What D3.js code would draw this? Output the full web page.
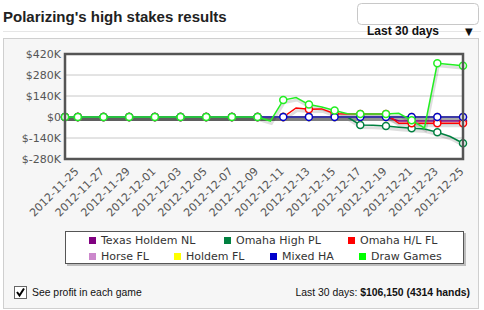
<!DOCTYPE html>
<html><head><meta charset="utf-8">
<script src="https://cdn.jsdelivr.net/npm/d3@7"></script>
<style>
body{margin:0;background:#fff;}
svg{display:block;}
</style></head>
<body><svg id="c" width="484" height="310"></svg>
<script>
// ---------- data ----------
const dates = ["2012-11-24","2012-11-25","2012-11-26","2012-11-27","2012-11-28","2012-11-29","2012-11-30",
"2012-12-01","2012-12-02","2012-12-03","2012-12-04","2012-12-05","2012-12-06","2012-12-07","2012-12-08",
"2012-12-09","2012-12-10","2012-12-11","2012-12-12","2012-12-13","2012-12-14","2012-12-15","2012-12-16",
"2012-12-17","2012-12-18","2012-12-19","2012-12-20","2012-12-21","2012-12-22","2012-12-23","2012-12-24","2012-12-25"];
const seriesNames = ["Texas Holdem NL","Omaha High PL","Omaha H/L FL","Horse FL","Holdem FL","Mixed HA","Draw Games"];
const seriesColors = ["#800080","#008040","#ff0000","#cc88cc","#ffff00","#0000cc","#22ee22"];
const legendColors = ["#800080","#008040","#ff0000","#cc88cc","#ffff00","#0000cc","#00ff00"];
// values in $K
const texasHoldemNL = [0,0,0,0,0,0,0,0,0,0,0,0,0,0,0,0,0,0,0,0,0,0,0,0,0,0,-27,-27,-27,-27,-27,-27];
const omahaHighPL   = [0,0,0,0,0,0,0,0,0,0,0,0,0,0,0,0,0,0,0,0,0,0,0,-53,-55,-60,-68,-75,-80,-102,-130,-175];
const omahaHLFL     = [0,0,0,0,0,0,0,0,0,0,0,0,0,0,0,0,0,0,60,52,54,22,20,20,20,20,-42,-42,-42,-42,-42,-42];
const horseFL       = [0,0,0,0,0,0,0,0,0,0,0,0,0,0,0,0,0,0,0,0,0,0,0,0,0,0,0,0,0,0,0,0];
const holdemFL      = [0,0,0,0,0,0,0,0,0,0,0,0,0,0,0,0,0,0,0,0,0,0,0,0,0,0,0,0,0,0,0,0];
const mixedHA       = [0,0,0,0,0,0,0,0,0,0,0,0,0,0,0,0,0,0,0,0,0,0,0,0,0,0,0,0,0,0,0,0];
const drawGames     = [0,0,0,0,0,0,0,0,0,0,0,0,0,0,0,0,-27,113,130,83,67,43,22,20,20,20,25,-22,-73,358,350,342];
const seriesValues = [texasHoldemNL,omahaHighPL,omahaHLFL,horseFL,holdemFL,mixedHA,drawGames];
const yTicks = [-280,-140,0,140,280,420];
const legendRows = [["Texas Holdem NL","Omaha High PL","Omaha H/L FL"],["Horse FL","Holdem FL","Mixed HA","Draw Games"]];

// ---------- drawing ----------
const svg = d3.select("#c");
const parse = d3.timeParse("%Y-%m-%d");
const fmt = d3.timeFormat("%Y-%m-%d");
const D = dates.map(parse);

// title
svg.append("text").attr("x",3).attr("y",22).attr("font-family","Liberation Sans, Arial, sans-serif")
  .attr("font-weight","bold").attr("font-size",15).attr("fill","#222").text("Polarizing's high stakes results");
svg.append("line").attr("x1",3).attr("x2",481).attr("y1",31.5).attr("y2",31.5).attr("stroke","#e6e6e6");
// dropdown
svg.append("rect").attr("x",357.5).attr("y",3.5).attr("width",121).attr("height",21).attr("rx",4)
  .attr("fill","#fff").attr("stroke","#c8c8c8");
svg.append("text").attr("x",367).attr("y",35).attr("font-family","Liberation Sans, Arial, sans-serif")
  .attr("font-weight","bold").attr("font-size",12).attr("fill","#111").text("Last 30 days");
svg.append("text").attr("x",465).attr("y",35).attr("font-family","DejaVu Sans, sans-serif")
  .attr("font-size",10).attr("fill","#111").text("▼");

// panel
svg.append("rect").attr("x",3.5).attr("y",38.5).attr("width",475).attr("height",270)
  .attr("fill","#f6f6f6").attr("stroke","#cfcfcf");

const L=65,R=463,T=54,B=159;
const x = d3.scaleTime().domain([D[0],D[D.length-1]]).range([L,R]);
const y = d3.scaleLinear().domain([-280,420]).range([B,T]);

svg.append("rect").attr("x",L).attr("y",T).attr("width",R-L).attr("height",B-T).attr("fill","#fff");
// grid
svg.append("g").selectAll("line").data(yTicks).join("line")
  .attr("x1",L).attr("x2",R).attr("y1",d=>y(d)).attr("y2",d=>y(d)).attr("stroke","#c8c8c8");

// y axis labels
const yAxis = d3.axisLeft(y).tickValues(yTicks).tickSize(0).tickPadding(4)
  .tickFormat(d=> d===0 ? "$0" : "$"+d+"K");
const gy = svg.append("g").attr("transform",`translate(${L},0)`).call(yAxis);
gy.select(".domain").remove();
gy.selectAll("text").attr("font-family","DejaVu Sans, sans-serif").attr("font-size",11).attr("fill","#555");

// x axis labels
const xTickVals = D.filter((d,i)=>i%2===1);
const xAxis = d3.axisBottom(x).tickValues(xTickVals).tickSize(0).tickFormat(fmt);
const gx = svg.append("g").attr("transform",`translate(0,${B})`).call(xAxis);
gx.select(".domain").remove();
gx.selectAll("text").attr("font-family","DejaVu Sans, sans-serif").attr("font-size",11).attr("fill","#555")
  .attr("text-anchor","end").attr("dy",null).attr("y",0)
  .attr("transform","translate(1,13) rotate(-45)");

// lines
const line = d3.line().x((d,i)=>x(D[i])).y(d=>y(d));
const shadowG = svg.append("g").attr("transform","translate(1,2.5)");
seriesValues.forEach(vals=>{
  shadowG.append("path").attr("d",line(vals)).attr("fill","none")
    .attr("stroke","#000").attr("stroke-opacity",0.13).attr("stroke-width",3);
});
seriesValues.forEach((vals,k)=>{
  const g = svg.append("g");
  g.append("path").attr("d",line(vals)).attr("fill","none").attr("stroke",seriesColors[k]).attr("stroke-width",1.5);
  g.selectAll("circle").data(vals.map((v,i)=>({v,i})).filter(p=>p.i===0||p.i%2===1)).join("circle")
    .attr("cx",p=>x(D[p.i])).attr("cy",p=>y(p.v)).attr("r",3.5)
    .attr("fill","#fff").attr("stroke",seriesColors[k]).attr("stroke-width",1.5);
});

// plot border
svg.append("rect").attr("x",L).attr("y",T).attr("width",R-L).attr("height",B-T)
  .attr("fill","none").attr("stroke","#555").attr("stroke-width",2.5);

// legend
svg.append("rect").attr("x",67).attr("y",233).attr("width",399).attr("height",33).attr("fill","#999").attr("opacity",0.6);
svg.append("rect").attr("x",65.5).attr("y",231.5).attr("width",398).attr("height",32).attr("fill","#fff").attr("stroke","#555");
const rowX = [[89,224,348],[89,174,270,359]];
const rowY = [244,260];
legendRows.forEach((row,r)=>{
  row.forEach((name,j)=>{
    const k = seriesNames.indexOf(name);
    const gx0 = rowX[r][j];
    svg.append("rect").attr("x",gx0).attr("y",rowY[r]-7).attr("width",7).attr("height",7).attr("fill",legendColors[k]);
    svg.append("text").attr("x",gx0+12).attr("y",rowY[r]).attr("font-family","DejaVu Sans, sans-serif")
      .attr("font-size",11).attr("fill","#333").text(name);
  });
});

// checkbox
svg.append("rect").attr("x",14.5).attr("y",286.5).attr("width",12).attr("height",12).attr("fill","#fff").attr("stroke","#666");
svg.append("path").attr("d","M17 292 L19.5 295.5 L24 288.5").attr("fill","none").attr("stroke","#000").attr("stroke-width",2);
svg.append("text").attr("x",32).attr("y",296).attr("font-family","Liberation Sans, Arial, sans-serif")
  .attr("font-size",10.4).attr("fill","#111").text("See profit in each game");
const summary = svg.append("text").attr("x",470).attr("y",296).attr("text-anchor","end")
  .attr("font-family","Liberation Sans, Arial, sans-serif").attr("font-size",10.4).attr("fill","#111");
summary.append("tspan").text("Last 30 days: ");
summary.append("tspan").attr("font-weight","bold").text("$106,150 (4314 hands)");
</script></body></html>
